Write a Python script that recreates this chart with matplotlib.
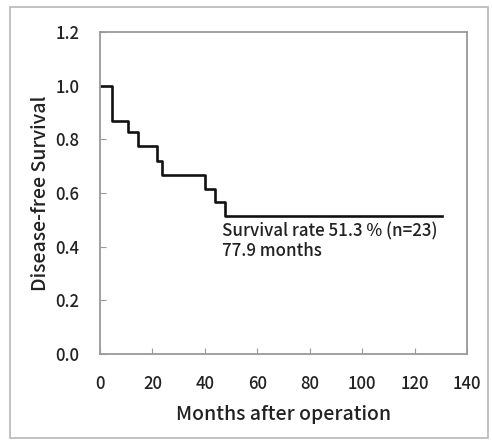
import matplotlib
matplotlib.use('Agg')
import matplotlib.pyplot as plt
from matplotlib.patches import Rectangle

plt.rcParams['font.family'] = ['Noto Sans CJK JP', 'DejaVu Sans']

# Kaplan-Meier step curve (months, survival)
months = [0, 4.5, 10.8, 14.4, 21.6, 23.8, 40.1, 43.9, 47.7, 130.4]
survival = [1.0, 0.870, 0.826, 0.774, 0.721, 0.667, 0.614, 0.566, 0.513, 0.513]

xticks = [0, 20, 40, 60, 80, 100, 120, 140]
yticks = [0.0, 0.2, 0.4, 0.6, 0.8, 1.0, 1.2]
note = "Survival rate 51.3 % (n=23)\n77.9 months"

fig = plt.figure(figsize=(4.92, 4.43), dpi=100)
# outer frame around the whole panel
fig.patches.append(Rectangle((10/492, 5/443), 478/492, 431/443, transform=fig.transFigure,
                             fill=False, ec='#b8b8b8', lw=1.2))
ax = fig.add_axes([100/492, 1-354/443, 367/492, 322/443])

ax.step(months, survival, where='post', color='#111111', lw=1.9)

ax.text(46.6, 0.49, note, fontsize=12.2, va='top', ha='left', color='#222222',
        linespacing=1.1, fontweight='medium')

ax.set_xlim(0, 140)
ax.set_ylim(0, 1.2)
ax.set_xticks(xticks)
ax.set_yticks(yticks)
ax.set_yticklabels([f"{v:.1f}" for v in yticks])
ax.tick_params(direction='in', length=4, color='#999999', labelsize=12, labelcolor='#222222')
ax.tick_params(axis='y', pad=15)
ax.tick_params(axis='x', pad=15)
for lab in ax.get_xticklabels() + ax.get_yticklabels():
    lab.set_fontweight('medium')
for s in ax.spines.values():
    s.set_color('#999999')
    s.set_linewidth(1.3)

ax.set_xlabel("Months after operation", fontsize=14, color='#222222', labelpad=9, fontweight='medium')
ax.set_ylabel("Disease-free Survival", fontsize=14, color='#222222', labelpad=4, fontweight='medium')

fig.savefig('out.png', dpi=100)
